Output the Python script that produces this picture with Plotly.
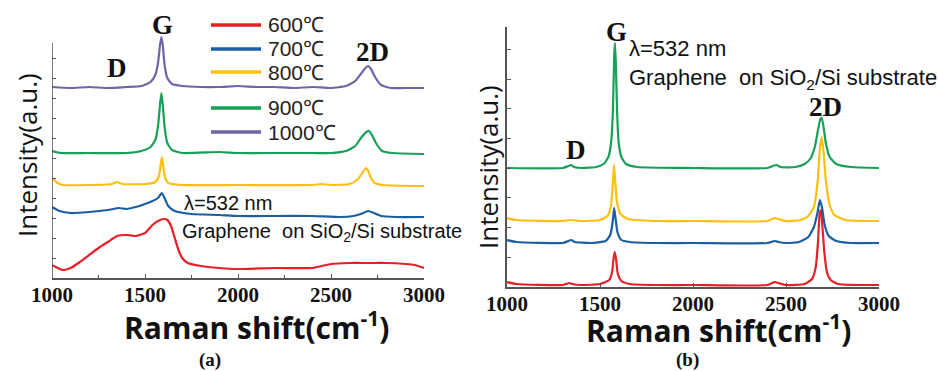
import plotly.graph_objects as go

W, H = 938, 371

# ---- Panel (a): spectra vs. growth temperature (offset, arbitrary units) ----
temps = ["600℃", "700℃", "800℃", "900℃", "1000℃"]
colors = ["#e42128", "#1c5ea2", "#fdc010", "#17a058", "#6e66a8"]

a_600_x = [1000, 1030, 1060, 1100, 1150, 1200, 1250, 1300, 1350, 1400, 1450, 1500, 1540, 1570,
           1600, 1620, 1640, 1660, 1680, 1700, 1730, 1800, 1900, 2000, 2200, 2400, 2450, 2500,
           2600, 2700, 2800, 2900, 2950, 3000]
a_600_y = [13, 10, 8, 10, 16, 23, 30, 36, 42, 43, 42, 45, 53, 57,
           59, 58, 52, 40, 28, 20, 15, 12, 10, 9, 10, 10, 12, 14,
           15, 15, 15, 14, 13, 10]

a_700_x = [1000, 1040, 1100, 1200, 1300, 1360, 1400, 1450, 1500, 1540, 1570, 1590, 1605, 1625,
           1660, 1750, 1900, 2000, 2200, 2400, 2550, 2620, 2660, 2700, 2730, 2770, 2850, 3000]
a_700_y = [71, 67, 65, 66, 68, 70, 69, 71, 74, 77, 80, 85, 80, 72,
           67, 64, 63, 62, 62, 62, 61, 62, 64, 67, 65, 62, 61, 61]

a_800_x = [1000, 1030, 1060, 1200, 1320, 1350, 1380, 1500, 1555, 1575, 1585, 1591, 1598, 1608,
           1625, 1700, 2000, 2400, 2450, 2500, 2600, 2640, 2665, 2688, 2700, 2715, 2735, 2780, 3000]
a_800_y = [100, 95, 93, 93, 94, 96, 94, 94, 96, 102, 114, 121, 112, 100,
           95, 93, 93, 93, 94, 93, 94, 98, 104, 110, 107, 100, 95, 93, 92]

a_900_x = [1000, 1050, 1200, 1400, 1480, 1530, 1555, 1570, 1580, 1588, 1596, 1606, 1620, 1645,
           1700, 1900, 2000, 2200, 2400, 2500, 2580, 2630, 2665, 2690, 2705, 2720, 2745, 2775,
           2830, 3000]
a_900_y = [127, 125, 125, 125, 127, 131, 138, 152, 172, 185, 172, 150, 135, 128,
           125, 126, 125, 125, 125, 125, 127, 132, 141, 146, 147, 143, 134, 127,
           125, 124]

a_1000_x = [1000, 1100, 1200, 1300, 1400, 1480, 1530, 1555, 1570, 1580, 1588, 1596, 1606, 1620,
            1645, 1700, 1800, 1900, 2000, 2100, 2200, 2300, 2400, 2500, 2580, 2630, 2660, 2685,
            2700, 2715, 2740, 2770, 2820, 2900, 3000]
a_1000_y = [191, 190, 191, 190, 191, 192, 196, 203, 215, 232, 241, 232, 212, 200,
            194, 192, 191, 191, 192, 191, 191, 190, 191, 190, 192, 197, 204, 210,
            212, 209, 200, 193, 190, 190, 190]

# ---- Panel (b): spectra of four samples (offset, arbitrary units) ----
b_red_x = [1000, 1050, 1300, 1335, 1350, 1400, 1500, 1550, 1565, 1574, 1580, 1587, 1596, 1615,
           1660, 1800, 2000, 2400, 2440, 2460, 2500, 2600, 2640, 2660, 2672, 2682, 2688, 2696,
           2706, 2720, 2740, 2780, 3000]
b_red_y = [5, 3, 2, 4, 3, 2, 3, 7, 15, 30, 35, 27, 13, 6,
           3, 2, 2, 2, 5, 4, 2, 3, 8, 20, 45, 75, 77, 60,
           35, 15, 7, 3, 2]

b_blue_x = [1000, 1050, 1300, 1330, 1345, 1365, 1450, 1530, 1555, 1568, 1576, 1584, 1595, 1615,
            1660, 1800, 2000, 2400, 2440, 2460, 2500, 2570, 2620, 2650, 2670, 2682, 2693, 2708,
            2730, 2770, 2850, 3000]
b_blue_y = [47, 45, 44, 46, 47, 45, 44, 46, 52, 65, 79, 68, 54, 47,
            45, 44, 44, 44, 46, 45, 44, 45, 50, 60, 75, 87, 80, 62,
            51, 46, 44, 44]

b_yellow_x = [1000, 1050, 1300, 1340, 1400, 1500, 1540, 1558, 1568, 1575, 1582, 1592, 1610, 1650,
              1800, 2000, 2400, 2440, 2460, 2500, 2580, 2620, 2650, 2670, 2682, 2692, 2702, 2715,
              2735, 2760, 2820, 3000]
b_yellow_y = [69, 67, 66, 67, 66, 67, 71, 80, 100, 122, 105, 84, 73, 68,
              66, 66, 66, 69, 68, 66, 67, 71, 80, 105, 138, 150, 135, 105,
              82, 72, 67, 66]

b_green_x = [1000, 1300, 1330, 1345, 1360, 1400, 1480, 1520, 1545, 1560, 1570, 1576, 1580, 1585,
             1592, 1600, 1615, 1640, 1700, 2000, 2400, 2430, 2450, 2470, 2550, 2600, 2630, 2655,
             2672, 2685, 2692, 2702, 2715, 2735, 2770, 2850, 3000]
b_green_y = [119, 119, 121, 122, 120, 119, 120, 123, 130, 145, 180, 230, 244, 225,
             175, 145, 130, 123, 120, 119, 119, 121, 122, 120, 120, 123, 128, 140,
             157, 168, 169, 160, 143, 130, 123, 120, 119]

x_ticks = [1000, 1500, 2000, 2500, 3000]
a_y_ticks = [20, 40, 60, 80, 100, 120, 140, 160, 180, 200, 220]
b_y_ticks = [29.7, 59.4, 89.1, 118.8, 148.5, 178.2, 207.9, 237.6]

a_series = [(a_600_x, a_600_y), (a_700_x, a_700_y), (a_800_x, a_800_y),
            (a_900_x, a_900_y), (a_1000_x, a_1000_y)]
b_series = [(b_red_x, b_red_y, colors[0]), (b_blue_x, b_blue_y, colors[1]),
            (b_yellow_x, b_yellow_y, colors[2]), (b_green_x, b_green_y, colors[3])]


def px(x):
    return x / W


def py(y):
    return 1 - y / H


fig = go.Figure()

for (xs, ys), c in zip(a_series, colors):
    fig.add_trace(go.Scatter(x=xs, y=ys, mode="lines", xaxis="x", yaxis="y",
                             line=dict(color=c, width=2.2, shape="spline", smoothing=0.5),
                             showlegend=False, hoverinfo="skip"))

for xs, ys, c in b_series:
    fig.add_trace(go.Scatter(x=xs, y=ys, mode="lines", xaxis="x2", yaxis="y2",
                             line=dict(color=c, width=2.2, shape="spline", smoothing=0.5),
                             showlegend=False, hoverinfo="skip"))

axis_col = "#555555"
tick_font = dict(family="Liberation Serif", size=21, color="#111111")

common_x = dict(range=[1000, 3000], showline=True, linecolor=axis_col, linewidth=1.5,
                ticks="inside", ticklen=4, tickcolor=axis_col, tickwidth=1.2,
                tickvals=x_ticks, ticktext=["<b>%d</b>" % v for v in x_ticks],
                tickfont=tick_font, showgrid=False, zeroline=False, fixedrange=True,
                automargin=False, ticklabelstandoff=-3)

fig.update_layout(
    template="none",
    width=W, height=H,
    margin=dict(l=0, r=0, t=0, b=0, pad=0),
    paper_bgcolor="white", plot_bgcolor="white",
    xaxis=dict(domain=[px(52), px(424)], anchor="y",
               minor=dict(dtick=250, tick0=1000, ticks="inside", ticklen=3, tickcolor=axis_col),
               **common_x),
    yaxis=dict(domain=[py(278), py(33)], range=[0, 245], anchor="x",
               showline=False, showticklabels=False, ticks="inside", ticklen=4,
               tickcolor=axis_col, tickwidth=1.2, tickvals=a_y_ticks,
               showgrid=False, zeroline=False, fixedrange=True, automargin=False),
    xaxis2=dict(domain=[px(507), px(879)], anchor="y2", **common_x),
    yaxis2=dict(domain=[py(287), py(27)], range=[0, 260], anchor="x2",
                showline=True, linecolor=axis_col, linewidth=1.5,
                showticklabels=False, ticks="inside", ticklen=4,
                tickcolor=axis_col, tickwidth=1.2, tickvals=b_y_ticks,
                showgrid=False, zeroline=False, fixedrange=True, automargin=False),
)

shapes = []
# left axis of panel (a), stopping below the tallest peak
shapes.append(dict(type="line", xref="x", yref="y", x0=1000, x1=1000, y0=0, y1=235,
                   line=dict(color=axis_col, width=1.5)))

annotations = []

# legend for panel (a)
legend_rows = [25, 49, 72, 108, 132]
for t, c, r in zip(temps, colors, legend_rows):
    shapes.append(dict(type="line", xref="paper", yref="paper",
                       x0=px(211), x1=px(261), y0=py(r), y1=py(r),
                       line=dict(color=c, width=3.5)))
    annotations.append(dict(x=px(266), y=py(r), xref="paper", yref="paper",
                            text=t, showarrow=False, xanchor="left", yanchor="middle",
                            font=dict(family="Liberation Sans", size=21, color="#222222")))

peak_font = dict(family="Liberation Serif", size=27, color="#111111")


def label(x, y, text, font, xanchor="center", angle=0):
    annotations.append(dict(x=px(x), y=py(y), xref="paper", yref="paper", text=text,
                            showarrow=False, xanchor=xanchor, yanchor="middle",
                            textangle=angle, font=font))


# peak labels
label(162, 25, "<b>G</b>", peak_font)
label(117, 68, "<b>D</b>", peak_font)
label(372, 52, "<b>2D</b>", peak_font)
label(616, 32, "<b>G</b>", peak_font)
label(576, 150, "<b>D</b>", peak_font)
label(825, 107, "<b>2D</b>", peak_font)

# excitation / sample notes
note_a = dict(family="Liberation Sans", size=20, color="#111111")
note_b = dict(family="Liberation Sans", size=22, color="#111111")
label(182, 203, "λ=532 nm", note_a, xanchor="left")
label(180, 233, "Graphene  on SiO<sub>2</sub>/Si substrate", note_a, xanchor="left")
label(627, 48, "λ=532 nm", note_b, xanchor="left")
label(627, 79, "Graphene  on SiO<sub>2</sub>/Si substrate", note_b, xanchor="left")

# axis titles
title_font = dict(family="Open Sans", size=30, color="#111111")
ylab_font = dict(family="Open Sans", size=26, color="#111111")
label(256, 326, "<b>Raman shift(cm<sup>-1</sup>)</b>", title_font)
label(718, 329, "<b>Raman shift(cm<sup>-1</sup>)</b>", title_font)
label(27, 155, "Intensity(a.u.)", ylab_font, angle=-90)
label(488, 167, "Intensity(a.u.)", ylab_font, angle=-90)

# panel captions
cap_font = dict(family="Liberation Serif", size=19, color="#111111")
label(210, 360, "<b>(a)</b>", cap_font)
label(687, 360, "<b>(b)</b>", cap_font)

fig.update_layout(shapes=shapes, annotations=annotations)

fig.write_html("out.html")
